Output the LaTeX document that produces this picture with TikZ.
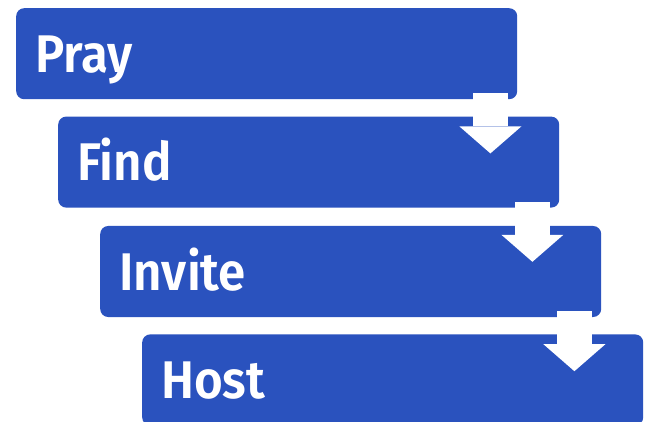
\documentclass[tikz,border=0pt]{standalone}
\usepackage{fontspec}
\setmainfont{Fira Sans}
\newfontfamily\stepfont{Fira Sans SemiBold}[FakeStretch=0.93]
\usetikzlibrary{arrows.meta, positioning, calc}
\definecolor{stepblue}{HTML}{2A52BE}
\tikzset{
    stepbox/.style={
        rectangle,
        rounded corners=8pt,
        fill=stepblue,
        minimum width=501pt,
        minimum height=91pt,
        text width=463pt,
        inner xsep=19pt,
        inner ysep=0pt,
        text height=37pt,
        text depth=0pt,
        align=left,
        text=white,
        font=\stepfont\fontsize{53}{60}\selectfont
    },
    flowarrow/.style={
        white,
        line width=35pt,
        -{Triangle[width=62pt, length=27pt, line width=0pt]}
    }
}

\begin{document}
\begin{tikzpicture}

    % Frame
    \path[use as bounding box, clip] (0,0) rectangle (648pt,-422pt);

    % Steps
    \node[stepbox, anchor=north west] (pray) at (16pt,-8pt) {Pray};
    \node[stepbox, below=17pt of pray, xshift=42pt] (find) {Find};
    \node[stepbox, below=18pt of find, xshift=42pt] (invite) {Invite};
    \node[stepbox, below=17pt of invite, xshift=42pt] (host) {Host};

    % Arrows
    \draw[flowarrow] ($(pray.south east)+(-27pt,6pt)$) -- ($(pray.south east)+(-27pt,-54pt)$);
    \draw[flowarrow] ($(find.south east)+(-27pt,6pt)$) -- ($(find.south east)+(-27pt,-54pt)$);
    \draw[flowarrow] ($(invite.south east)+(-27pt,6pt)$) -- ($(invite.south east)+(-27pt,-54pt)$);

\end{tikzpicture}
\end{document}
